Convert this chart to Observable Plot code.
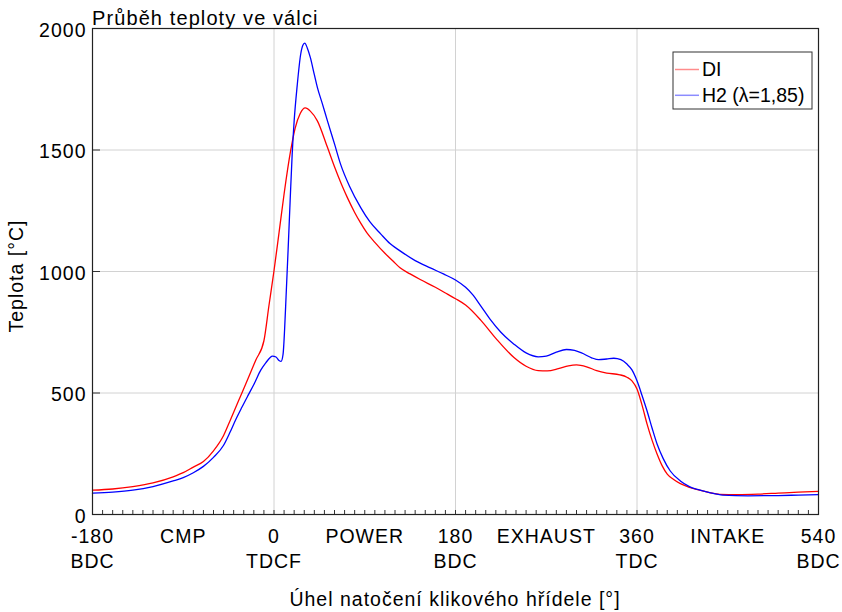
<!DOCTYPE html>
<html>
<head>
<meta charset="utf-8">
<script src="https://cdn.jsdelivr.net/npm/d3@7"></script>
<script src="https://cdn.jsdelivr.net/npm/@observablehq/plot@0.6"></script>
<style>
  html, body { margin: 0; padding: 0; background: #fff; }
  #chart svg { display: block; }
</style>
</head>
<body>
<div id="chart"></div>
<script>
// Cylinder temperature over the crank angle for two engine variants.
const diAngle = [-180, -160, -140, -120, -100, -90, -80, -70, -60, -50, -44, -38, -33, -25, -18, -10, -5, 0, 5, 10, 16.5, 21, 26, 31, 36, 43, 53, 60, 67, 73, 80, 86, 92, 100, 110, 118, 125, 135, 145, 160, 172, 180, 190, 205, 220, 238, 250, 262, 271, 282, 292, 300, 310, 320, 330, 343, 350, 355, 360, 365, 370, 375, 380, 385, 390, 396, 403, 412, 420, 432, 442, 460, 480, 500, 520, 540];
const diTemp  = [100, 105, 115, 130, 155, 172, 195, 218, 262, 325, 382, 440, 489, 567, 636, 715, 860, 1003, 1160, 1319, 1497, 1590, 1650, 1673, 1660, 1620, 1511, 1431, 1358, 1302, 1243, 1199, 1160, 1120, 1075, 1043, 1015, 990, 967, 935, 907, 888, 862, 800, 725, 646, 610, 592, 591, 600, 612, 616, 608, 592, 582, 575, 565, 550, 516, 450, 372, 305, 248, 200, 166, 145, 127, 112, 102, 90, 83, 82, 84, 88, 92, 95];

const h2Angle = [-180, -160, -140, -120, -100, -90, -80, -70, -60, -50, -44, -38, -32, -26, -20, -13, -8, -4, -1.6, 2, 5, 7, 9, 10.5, 12, 14, 16, 18, 20, 23, 26.5, 28.5, 30.5, 33, 36, 40, 43, 48, 53, 60, 66, 75, 86, 95, 106, 115, 125, 140, 155, 168, 180, 190, 197, 205, 215, 225, 238, 250, 262, 270, 280, 290, 298, 305, 315, 322, 330, 337, 344, 350, 355, 360, 365, 370, 375, 380, 386, 393, 403, 412, 420, 432, 445, 470, 500, 520, 540];
const h2Temp  = [88, 92, 100, 115, 138, 152, 172, 198, 235, 285, 335, 390, 440, 488, 535, 595, 625, 645, 652, 648, 634, 630, 660, 760, 900, 1090, 1290, 1480, 1620, 1765, 1895, 1930, 1940, 1920, 1881, 1810, 1758, 1690, 1620, 1525, 1442, 1350, 1263, 1205, 1154, 1115, 1085, 1045, 1015, 990, 965, 935, 905, 859, 800, 750, 701, 665, 649, 652, 668, 679, 675, 665, 645, 637, 640, 643, 637, 619, 595, 550, 490, 426, 355, 289, 230, 179, 138, 115, 103, 90, 80, 77, 78, 80, 82];

const seriesNames  = ["DI", "H2 (λ=1,85)"];
const seriesColors = ["#ff0000", "#0000ff"];
const legendColors = ["#ff8c8c", "#8c8cff"];

const xTickValues = [-180, -90, 0, 90, 180, 270, 360, 450, 540];
const xTickLabels = ["-180\nBDC", "CMP", "0\nTDCF", "POWER", "180\nBDC", "EXHAUST", "360\nTDC", "INTAKE", "540\nBDC"];
const xMinorTicks = d3.range(-180, 541, 10);
const xGrid = [0, 180, 360];
const yTickValues = [0, 500, 1000, 1500, 2000];
const yGrid = [500, 1000, 1500];

const titleText = "Průběh teploty ve válci";
const xLabel = "Úhel natočení klikového hřídele [°]";
const yLabel = "Teplota [°C]";

const rows = [
  ...diAngle.map((a, i) => ({angle: a, temp: diTemp[i], series: seriesNames[0]})),
  ...h2Angle.map((a, i) => ({angle: a, temp: h2Temp[i], series: seriesNames[1]}))
];

const W = 842, H = 612;
const mL = 92, mR = 24, mT = 28, mB = 98;
const plotW = W - mL - mR, plotH = H - mT - mB;
const FONT = "'Liberation Sans', Arial, Helvetica, sans-serif";
const FS = 19.5;

const labelOf = new Map(xTickValues.map((v, i) => [v, xTickLabels[i]]));

const chart = Plot.plot({
  width: W,
  height: H,
  marginLeft: mL,
  marginRight: mR,
  marginTop: mT,
  marginBottom: mB,
  style: {fontFamily: FONT, background: "#fff", color: "#000", letterSpacing: "1px"},
  x: {domain: [-180, 540]},
  y: {domain: [0, 2000]},
  color: {domain: seriesNames, range: seriesColors},
  marks: [
    Plot.ruleY(yGrid, {stroke: "#d2d2d2", strokeWidth: 1}),
    Plot.ruleX(xGrid, {stroke: "#d2d2d2", strokeWidth: 1}),
    Plot.line(rows, {x: "angle", y: "temp", z: "series", stroke: "series", strokeWidth: 1.3, curve: "monotone-x"}),
    Plot.tickX(xMinorTicks, {x: d => d, stroke: "#333", strokeWidth: 1, insetTop: plotH - 4}),
    Plot.tickY(yTickValues, {y: d => d, stroke: "#333", strokeWidth: 1, insetRight: plotW - 8}),
    Plot.frame({stroke: "#222", strokeWidth: 1.2}),
    Plot.axisY(yTickValues, {tickSize: 0, tickPadding: 6, dy: 2, fontSize: FS, label: null, tickFormat: d => String(d)}),
    Plot.axisX(xTickValues, {tickSize: 0, tickPadding: 11, fontSize: FS, lineHeight: 1.28, label: null, tickFormat: d => labelOf.get(d)})
  ]
});

const svg = d3.select(chart);

// Title above the plot frame
svg.append("text")
  .attr("x", 92).attr("y", 25)
  .attr("text-anchor", "start")
  .attr("font-family", FONT).attr("font-size", 20).attr("fill", "#000")
  .style("letter-spacing", "1.1px")
  .text(titleText);

// Axis titles
svg.append("text")
  .attr("x", mL + plotW / 2).attr("y", 606)
  .attr("text-anchor", "middle")
  .attr("font-family", FONT).attr("font-size", FS).attr("fill", "#000")
  .text(xLabel);

svg.append("text")
  .attr("transform", `translate(23, ${mT + plotH / 2 + 5}) rotate(-90)`)
  .attr("text-anchor", "middle")
  .attr("font-family", FONT).attr("font-size", FS).attr("fill", "#000")
  .text(yLabel);

// Legend box in the upper right corner of the plot
const lg = svg.append("g").attr("transform", "translate(673, 52)");
lg.append("rect")
  .attr("width", 139).attr("height", 57)
  .attr("fill", "#fff").attr("stroke", "#333").attr("stroke-width", 1);
seriesNames.forEach((name, i) => {
  const cy = 17.5 + i * 25.8;
  lg.append("line")
    .attr("x1", 2).attr("x2", 26).attr("y1", cy).attr("y2", cy)
    .attr("stroke", legendColors[i]).attr("stroke-width", 1.5);
  lg.append("text")
    .attr("x", 29).attr("y", cy + 6.5)
    .attr("text-anchor", "start")
    .attr("font-family", FONT).attr("font-size", FS).attr("fill", "#000")
    .style("letter-spacing", "0px")
    .text(name);
});

document.getElementById("chart").appendChild(chart);
</script>
</body>
</html>
